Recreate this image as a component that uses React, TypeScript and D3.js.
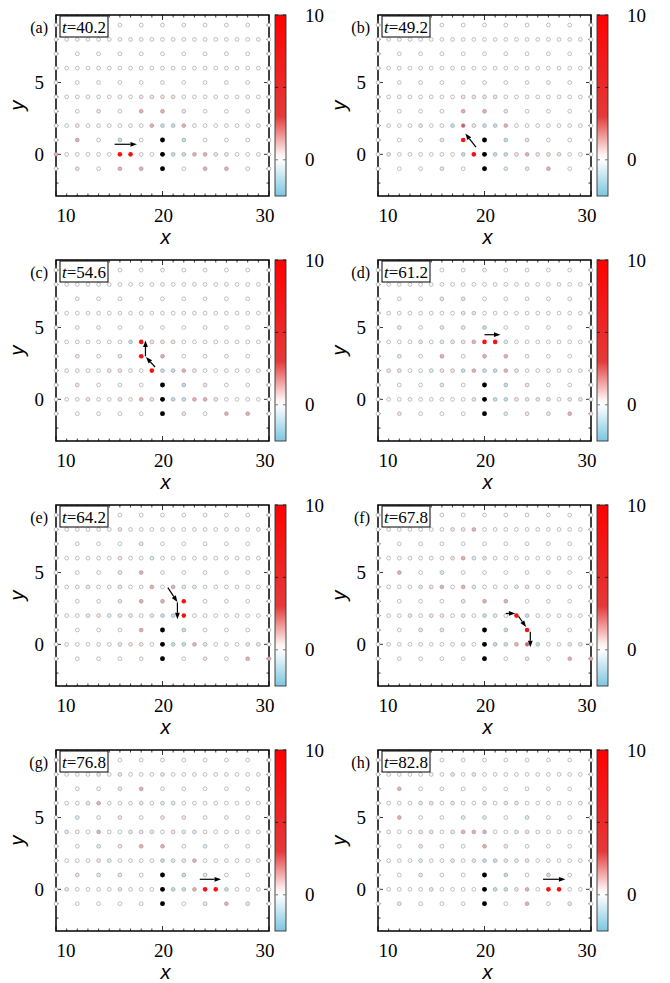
import React, { useRef, useEffect } from "react";
import * as d3 from "d3";

// value levels
const F = 0.6; // faint pink
const P = 1.4; // pink
const PP = 2.6; // strong pink
const R = 8; // red dot
const b = -0.7; // faint blue
const B = -1.3; // light blue

const times = ["40.2", "49.2", "54.6", "61.2", "64.2", "67.8", "76.8", "82.8"];
const panelLabels = ["(a)", "(b)", "(c)", "(d)", "(e)", "(f)", "(g)", "(h)"];

const sitesA = [
  [18, 4, F], [19, 4, F], [20, 4, F], [21, 4, F],
  [14, 3, F], [18, 3, P], [20, 3, P], [22, 3, F],
  [12, 2, F], [19, 2, P], [20, 2, B], [21, 2, B], [22, 2, P],
  [12, 1, P], [16, 1, B], [22, 1, B],
  [10, 0, P], [16, 0, R], [17, 0, R], [21, 0, B], [22, 0, B], [23, 0, P], [24, 0, P], [25, 0, F], [26, 0, F],
  [12, -1, F], [16, -1, P], [18, -1, P], [24, -1, P], [26, -1, P],
];
const sitesB = [
  [18, 4, F], [19, 4, F], [20, 4, F], [21, 4, F],
  [18, 3, P], [20, 3, P], [22, 3, F],
  [14, 2, F], [17, 2, B], [18, 2, PP], [19, 2, F], [20, 2, B], [21, 2, B], [22, 2, P],
  [16, 1, F], [18, 1, R], [22, 1, B], [24, 1, F],
  [11, 0, F], [18, 0, B], [19, 0, R], [21, 0, B], [22, 0, B], [23, 0, F], [24, 0, P], [25, 0, F], [26, 0, F], [27, 0, F],
  [16, -1, F], [22, -1, b], [24, -1, F], [26, -1, P],
];
const sitesC = [
  [17, 4, B], [18, 4, R], [19, 4, F], [20, 4, F], [21, 4, F],
  [12, 3, F], [16, 3, b], [18, 3, R], [20, 3, P],
  [15, 2, F], [16, 2, F], [19, 2, R], [20, 2, B], [21, 2, B], [22, 2, P], [23, 2, F],
  [12, 1, F], [22, 1, B], [24, 1, F],
  [13, 0, F], [16, 0, F], [18, 0, P], [19, 0, F], [21, 0, B], [22, 0, B], [23, 0, P], [24, 0, P], [25, 0, F],
  [22, -1, F], [26, -1, P], [28, -1, P],
];
const sitesD = [
  [16, 7, F], [18, 7, F],
  [18, 6, b], [19, 6, F],
  [12, 5, b], [16, 5, F], [18, 5, b], [20, 5, B],
  [14, 4, F], [16, 4, b], [17, 4, F], [18, 4, F], [19, 4, P], [20, 4, R], [21, 4, R], [22, 4, b],
  [12, 3, b], [16, 3, P], [20, 3, P], [22, 3, P],
  [11, 2, F], [12, 2, F], [15, 2, b], [16, 2, F], [17, 2, F], [18, 2, B], [19, 2, P], [20, 2, B], [21, 2, B], [22, 2, P], [23, 2, F],
  [16, 1, F], [22, 1, B], [24, 1, F],
  [19, 0, F], [21, 0, B], [22, 0, B], [23, 0, F], [24, 0, F], [25, 0, F], [26, 0, F], [28, 0, F], [29, 0, F],
  [12, -1, F], [22, -1, b], [24, -1, F], [26, -1, F], [28, -1, P], [30, -1, F],
];
const sitesE = [
  [16, 8, F],
  [18, 7, F],
  [16, 6, F], [19, 6, b],
  [16, 5, F], [18, 5, P],
  [13, 4, F], [16, 4, F], [19, 4, P], [21, 4, P], [22, 4, b], [23, 4, b],
  [10, 3, F], [16, 3, F], [18, 3, P], [20, 3, P], [22, 3, R],
  [13, 2, F], [14, 2, F], [15, 2, b], [16, 2, F], [17, 2, b], [19, 2, F], [20, 2, B], [21, 2, B], [22, 2, R],
  [18, 1, P], [22, 1, B],
  [16, 0, F], [17, 0, F], [18, 0, F], [21, 0, B], [22, 0, B], [23, 0, P], [24, 0, F], [28, 0, F], [29, 0, F],
  [24, -1, F], [28, -1, P], [30, -1, P],
];
const sitesF = [
  [17, 8, F], [18, 8, F], [19, 8, P],
  [17, 6, F], [18, 6, P], [19, 6, b], [20, 6, F],
  [12, 5, P], [16, 5, b],
  [14, 4, b], [15, 4, F], [16, 4, P], [18, 4, P], [19, 4, b], [23, 4, b], [24, 4, F],
  [18, 3, F], [20, 3, P], [22, 3, P],
  [13, 2, F], [15, 2, F], [16, 2, F], [18, 2, F], [20, 2, B], [21, 2, b], [23, 2, R], [24, 2, B],
  [14, 1, F], [16, 1, b], [22, 1, B], [24, 1, R],
  [18, 0, F], [21, 0, B], [22, 0, B], [23, 0, P], [24, 0, PP], [25, 0, B], [28, 0, F], [29, 0, F],
  [24, -1, F], [28, -1, P], [30, -1, P],
];
const sitesG = [
  [14, 8, F], [16, 8, F], [20, 8, F],
  [16, 7, F], [18, 7, P],
  [13, 6, F], [14, 6, P], [18, 6, b], [20, 6, b], [21, 6, b],
  [12, 5, b], [16, 5, F], [20, 5, F], [22, 5, F],
  [11, 4, F], [14, 4, P], [17, 4, b], [18, 4, F], [19, 4, F], [21, 4, F], [22, 4, b], [23, 4, F],
  [14, 3, b], [16, 3, F], [18, 3, P], [20, 3, P], [24, 3, b],
  [14, 2, F], [15, 2, b], [20, 2, B], [21, 2, b], [22, 2, F], [23, 2, P],
  [12, 1, F], [14, 1, b], [16, 1, F], [22, 1, B], [24, 1, b],
  [11, 0, F], [16, 0, F], [21, 0, B], [22, 0, B], [23, 0, P], [24, 0, R], [25, 0, R], [26, 0, B],
  [24, -1, F], [26, -1, P], [28, -1, F],
];
const sitesH = [
  [17, 8, F], [19, 8, F],
  [12, 7, P],
  [14, 6, b], [15, 6, F], [17, 6, F], [20, 6, F], [22, 6, F], [23, 6, F],
  [12, 5, P], [18, 5, b], [20, 5, b], [24, 5, b],
  [14, 4, F], [15, 4, F], [17, 4, F], [18, 4, P], [19, 4, P], [20, 4, P], [23, 4, b], [24, 4, F],
  [14, 3, F], [20, 3, P], [22, 3, F],
  [14, 2, b], [17, 2, F], [19, 2, F], [20, 2, B], [21, 2, B], [22, 2, F], [23, 2, b], [24, 2, F],
  [14, 1, F], [22, 1, B], [26, 1, B],
  [15, 0, F], [21, 0, B], [22, 0, B], [23, 0, F], [24, 0, P], [26, 0, R], [27, 0, R],
  [12, -1, F], [24, -1, P], [28, -1, F],
];
const sites = [sitesA, sitesB, sitesC, sitesD, sitesE, sitesF, sitesG, sitesH];

// arrows: [x1, y1, x2, y2] in data units
const arrows = [
  [[15.5, 0.7, 17.6, 0.7]],
  [[19.2, 0.5, 18.2, 1.45]],
  [[19.3, 2.25, 18.45, 2.95], [18.4, 3.0, 18.4, 4.1]],
  [[20.0, 4.5, 21.5, 4.5]],
  [[20.5, 3.95, 21.4, 2.95], [21.4, 2.92, 21.4, 1.75]],
  [[22.0, 2.15, 22.9, 2.15], [23.2, 1.95, 23.9, 1.2], [24.3, 0.87, 24.3, -0.2]],
  [[23.5, 0.7, 25.5, 0.7]],
  [[25.5, 0.7, 27.6, 0.7]],
];

const blockers = [[20, -1], [20, 0], [20, 1]];
const xTicks = [10, 20, 30];
const yTicks = [0, 5];
const cbTicks = [0, 10];
const colorDomain = [-2.5, 0, 0.4, 3, 10];
const colorRange = ["#7cc6e0", "#ffffff", "#fdf0f0", "#e43a3a", "#ff0000"];

const colLeft = [56, 378];
const W = 213;
const H = 181;
const xLabelShift = [10, 1, -4]; // gnuplot placed the x tick labels a little inward
const serif = "'Liberation Serif', 'Times New Roman', serif";
const sans = "'Liberation Sans', Arial, sans-serif";

function Panels() {
  const svgRef = useRef<SVGSVGElement>(null);

  useEffect(() => {
    const svg = d3.select(svgRef.current);
    svg.selectAll("*").remove();
    const color = d3.scaleLinear<string>().domain(colorDomain).range(colorRange).clamp(true);

    const grad = svg.append("defs").append("linearGradient")
      .attr("id", "cbgrad").attr("x1", 0).attr("y1", 1).attr("x2", 0).attr("y2", 0);
    colorDomain.forEach((d, i) =>
      grad.append("stop").attr("offset", (d + 2.5) / 12.5).attr("stop-color", colorRange[i]));

    // lattice: dense rows on even y, sparse rows on odd y
    const lattice: number[][] = [];
    for (let yy = -1; yy <= 9; yy++) {
      for (let xx = 10; xx <= 30; xx++) {
        if (yy % 2 === 0 || xx % 2 === 0) lattice.push([xx, yy]);
      }
    }

    sites.forEach((list, i) => {
      const left = colLeft[i % 2];
      const top = 15 + Math.floor(i / 2) * 245;
      const x = d3.scaleLinear().domain([10, 30]).range([left, left + W]);
      const y = d3.scaleLinear().domain([-2.9, 9.7]).range([top + H, top]);
      const g = svg.append("g");

      const val = new Map<string, number>();
      list.forEach(([sx, sy, v]) => val.set(sx + "," + sy, v));
      const v = (d: number[]) => val.get(d[0] + "," + d[1]) ?? 0;

      // frame ticks
      d3.range(10, 31).forEach(t => {
        const len = t % 10 === 0 ? 5 : 2.5;
        g.append("line").attr("x1", x(t)).attr("x2", x(t)).attr("y1", top + H).attr("y2", top + H - len)
          .attr("stroke", "#000").attr("stroke-width", 0.8);
        g.append("line").attr("x1", x(t)).attr("x2", x(t)).attr("y1", top).attr("y2", top + len)
          .attr("stroke", "#000").attr("stroke-width", 0.8);
      });
      d3.range(-2, 10).forEach(t => {
        const len = t % 5 === 0 ? 5 : 2.5;
        g.append("line").attr("y1", y(t)).attr("y2", y(t)).attr("x1", left).attr("x2", left + len)
          .attr("stroke", "#000").attr("stroke-width", 0.8);
        g.append("line").attr("y1", y(t)).attr("y2", y(t)).attr("x1", left + W).attr("x2", left + W - len)
          .attr("stroke", "#000").attr("stroke-width", 0.8);
      });
      g.append("rect").attr("x", left).attr("y", top).attr("width", W).attr("height", H)
        .attr("fill", "none").attr("stroke", "#000").attr("stroke-width", 1.5);

      // sites
      g.selectAll(".site").data(lattice).join("circle")
        .attr("class", "site")
        .attr("cx", d => x(d[0])).attr("cy", d => y(d[1]))
        .attr("r", d => (v(d) > 5 ? 2.3 : 1.9))
        .attr("fill", d => color(v(d)))
        .attr("stroke", d => (v(d) > 5 ? "none" : "#8e8e8e"))
        .attr("stroke-width", 0.55);

      g.selectAll(".block").data(blockers).join("circle")
        .attr("class", "block")
        .attr("cx", d => x(d[0])).attr("cy", d => y(d[1])).attr("r", 2.4).attr("fill", "#000");

      // arrows
      arrows[i].forEach(([x1, y1, x2, y2]) => {
        const ax = x(x1), ay = y(y1), bx2 = x(x2), by2 = y(y2);
        const ang = Math.atan2(by2 - ay, bx2 - ax);
        const L = 6.5, hw = 2.4;
        const hx = bx2 - L * Math.cos(ang), hy = by2 - L * Math.sin(ang);
        g.append("line").attr("x1", ax).attr("y1", ay).attr("x2", hx).attr("y2", hy)
          .attr("stroke", "#000").attr("stroke-width", 1.2);
        g.append("path")
          .attr("d", `M${bx2},${by2}L${hx - hw * Math.sin(ang)},${hy + hw * Math.cos(ang)}L${hx + hw * Math.sin(ang)},${hy - hw * Math.cos(ang)}Z`)
          .attr("fill", "#000");
      });

      // time box
      g.append("rect").attr("x", left + 4).attr("y", top + 1).attr("width", 48).attr("height", 21)
        .attr("fill", "#fff").attr("stroke", "#000").attr("stroke-width", 1);
      const tt = g.append("text").attr("x", left + 6).attr("y", top + 18)
        .attr("font-family", serif).attr("font-size", 17);
      tt.append("tspan").attr("font-style", "italic").text("t");
      tt.append("tspan").text("=" + times[i]);

      // panel label
      g.append("text").attr("x", left - 8).attr("y", top + 18).attr("text-anchor", "end")
        .attr("font-family", serif).attr("font-size", 16).text(panelLabels[i]);

      // axis tick labels
      xTicks.forEach((t, k) => {
        g.append("text").attr("x", x(t) + xLabelShift[k]).attr("y", top + H + 26).attr("text-anchor", "middle")
          .attr("font-family", serif).attr("font-size", 19).text(t);
      });
      yTicks.forEach(t => {
        g.append("text").attr("x", left - 12).attr("y", y(t) + 6.5).attr("text-anchor", "end")
          .attr("font-family", serif).attr("font-size", 19).text(t);
      });
      g.append("text").attr("x", left + W / 2 + 3).attr("y", top + H + 48).attr("text-anchor", "middle")
        .attr("font-family", sans).attr("font-style", "italic").attr("font-size", 20).text("x");
      g.append("text").attr("transform", `translate(${left - 32},${top + H / 2}) rotate(-90)`).attr("text-anchor", "middle")
        .attr("font-family", sans).attr("font-style", "italic").attr("font-size", 20).text("y");

      // colour bar
      const cbx = left + W + 6;
      const cy = d3.scaleLinear().domain([-2.5, 10]).range([top + H, top]);
      g.append("rect").attr("x", cbx).attr("y", top).attr("width", 11).attr("height", H)
        .attr("fill", "url(#cbgrad)").attr("stroke", "#333").attr("stroke-width", 0.9);
      [0, 5, 10].forEach(t => {
        g.append("line").attr("x1", cbx).attr("x2", cbx + 3).attr("y1", cy(t)).attr("y2", cy(t))
          .attr("stroke", t === 0 ? "#777" : "#222").attr("stroke-width", 1);
        g.append("line").attr("x1", cbx + 11).attr("x2", cbx + 8).attr("y1", cy(t)).attr("y2", cy(t))
          .attr("stroke", t === 0 ? "#777" : "#222").attr("stroke-width", 1);
      });
      cbTicks.forEach(t => {
        g.append("text").attr("x", cbx + 30).attr("y", cy(t) + 6.5)
          .attr("font-family", serif).attr("font-size", 19).text(t);
      });
    });
  }, []);

  return (
    <svg ref={svgRef} width={670} height={983}
      style={{ position: "absolute", left: 0, top: 0, background: "#fff" }} />
  );
}

export default function App() {
  return <Panels />;
}
